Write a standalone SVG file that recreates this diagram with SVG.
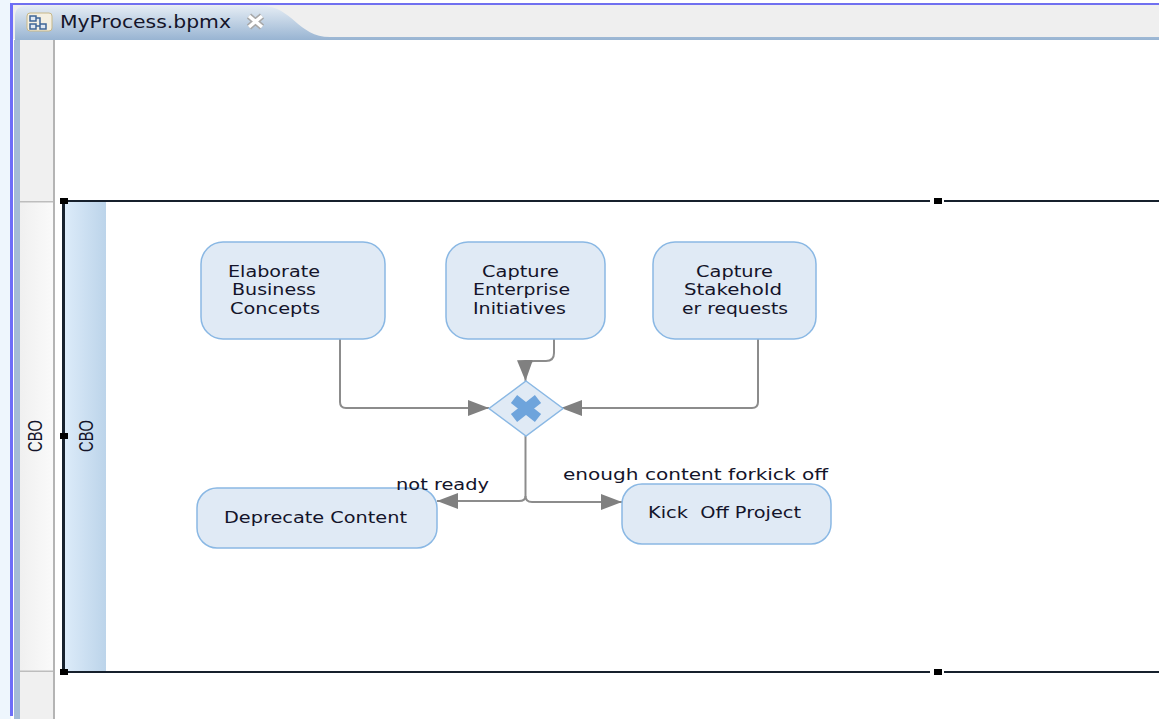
<svg xmlns="http://www.w3.org/2000/svg" width="1159" height="719" viewBox="0 0 1159 719">
<defs>
<linearGradient id="tabg" x1="0" y1="0" x2="0" y2="1"><stop offset="0" stop-color="#e4ecf4"/><stop offset="1" stop-color="#98b4d2"/></linearGradient>
<linearGradient id="lane" x1="0" y1="0" x2="1" y2="0"><stop offset="0" stop-color="#dcebf9"/><stop offset="1" stop-color="#bcd4ea"/></linearGradient>
<linearGradient id="left" x1="0" y1="0" x2="1" y2="0"><stop offset="0" stop-color="#f0f0f0"/><stop offset="1" stop-color="#fafafa"/></linearGradient>
<marker id="arr" markerUnits="userSpaceOnUse" markerWidth="22" markerHeight="18" refX="21" refY="8" orient="auto"><path d="M0 0L21 8L0 16Z" fill="#808080"/></marker>
</defs>
<style>
text{font-family:"DejaVu Sans","Liberation Sans",sans-serif;font-size:15.5px;fill:#14142a;white-space:pre}
.c{text-anchor:middle}
.task{fill:#e0eaf5;stroke:#8ab8e4;stroke-width:1.5}
.conn{fill:none;stroke:#8c8c8c;stroke-width:2;marker-end:url(#arr)}
.plain{fill:none;stroke:#8c8c8c;stroke-width:2}
.h{fill:#000}
.v{font-family:"Liberation Sans",sans-serif;font-size:21px}
</style>
<rect width="1159" height="719" fill="#fff"/>
<rect x="0" y="0" width="11" height="719" fill="#eef6fd"/>
<rect x="11" y="3" width="1148" height="2" fill="#7070f0"/>
<rect x="10" y="3" width="3" height="713" fill="#6e6ef8"/>
<rect x="13" y="5" width="1146" height="34" fill="#efefef"/>
<path d="M15 40V16Q15 6 26 6H262C292 6 298 37 330 37H1159V40Z" fill="url(#tabg)"/>
<rect x="14" y="40" width="6" height="679" fill="#a4bcd6"/>
<rect x="20" y="40" width="34" height="679" fill="#f0f0f0"/>
<rect x="20" y="202" width="34" height="469" fill="url(#left)"/>
<rect x="20" y="201" width="34" height="1.5" fill="#bdbdbd"/>
<rect x="20" y="670.5" width="34" height="1.5" fill="#bdbdbd"/>
<rect x="53" y="40" width="2" height="679" fill="#b4b4b4"/>
<g id="tab">
<rect x="27" y="13" width="25" height="18" rx="3" fill="#f4f0e2" stroke="#c8b888"/>
<path d="M30 16h6v5h-6zM30 24h6v5h-6zM40 24h6v5h-6zM36 18h4v6M36 26h4" fill="#dfe8f2" stroke="#3f6596" stroke-width="1.500"/>
<text x="60" y="28" style="font-size:18px" textLength="171" lengthAdjust="spacingAndGlyphs">MyProcess.bpmx</text>
<path d="M249 16L262 27M262 16L249 27" stroke="#a8a8a8" stroke-width="6.500"/>
<path d="M249 16L262 27M262 16L249 27" stroke="#fff" stroke-width="3.500" fill="none"/>
</g>
<g id="pool">
<rect x="65" y="202" width="41" height="469" fill="url(#lane)"/>
<path d="M63 201H1159M63 672H1159" stroke="#16202c" stroke-width="2" fill="none"/>
<path d="M63.500 201V672" stroke="#16202c" stroke-width="3" fill="none"/>
<rect x="60" y="198" width="8" height="6" class="h"/><rect x="60" y="433" width="8" height="6" class="h"/><rect x="60" y="669" width="8" height="6" class="h"/>
<rect x="930" y="199" width="14" height="5" fill="#fff"/><rect x="930" y="670" width="14" height="5" fill="#fff"/>
<rect x="934" y="198" width="8" height="6" class="h"/><rect x="934" y="669" width="8" height="6" class="h"/>
<text class="v c" transform="translate(42 436) rotate(-90)" textLength="32" lengthAdjust="spacingAndGlyphs">CBO</text>
<text class="v c" transform="translate(93 436) rotate(-90)" textLength="32" lengthAdjust="spacingAndGlyphs">CBO</text>
</g>
<g id="connectors">
<path class="conn" d="M340 338V402Q340 408 346 408H489"/>
<path class="conn" d="M554 338V353Q554 361 546 361H534Q525 361 525.500 381"/>
<path class="conn" d="M758 338V402Q758 408 752 408H561"/>
<path class="plain" d="M525.500 436V496"/>
<path class="conn" d="M525.500 496Q525.500 501 519 501H437"/>
<path class="conn" d="M525.500 496Q525.500 502 532 502H622"/>
</g>
<g id="elaborate"><rect class="task" x="201" y="242" width="184" height="97" rx="22"/><text x="228" y="277" textLength="92" lengthAdjust="spacingAndGlyphs">Elaborate</text><text x="232" y="295" textLength="84" lengthAdjust="spacingAndGlyphs">Business</text><text x="230" y="314" textLength="90" lengthAdjust="spacingAndGlyphs">Concepts</text></g>
<g id="enterprise"><rect class="task" x="446" y="242" width="159" height="97" rx="22"/><text x="482" y="277" textLength="77" lengthAdjust="spacingAndGlyphs">Capture</text><text x="473" y="295" textLength="97" lengthAdjust="spacingAndGlyphs">Enterprise</text><text x="473" y="314" textLength="93" lengthAdjust="spacingAndGlyphs">Initiatives</text></g>
<g id="stakeholder"><rect class="task" x="653" y="242" width="163" height="97" rx="22"/><text x="696" y="277" textLength="77" lengthAdjust="spacingAndGlyphs">Capture</text><text x="684" y="295" textLength="98" lengthAdjust="spacingAndGlyphs">Stakehold</text><text x="682" y="314" textLength="106" lengthAdjust="spacingAndGlyphs">er requests</text></g>
<g id="gateway"><path d="M526 381L563 408.500L526 436L489 408.500Z" fill="#e0eaf5" stroke="#8ab8e4" stroke-width="1.500"/><path d="M514 399L538 418M538 399L514 418" stroke="#6ea4dc" stroke-width="10" fill="none"/></g>
<g id="deprecate"><rect class="task" x="197" y="488" width="240" height="60" rx="20"/><text x="224" y="523" textLength="183" lengthAdjust="spacingAndGlyphs">Deprecate Content</text></g>
<g id="kickoff"><rect class="task" x="622" y="484" width="209" height="60" rx="20"/><text x="648" y="518" textLength="153" lengthAdjust="spacingAndGlyphs">Kick  Off Project</text></g>
<g id="labels"><text x="396" y="490" textLength="93" lengthAdjust="spacingAndGlyphs">not ready</text><text x="563" y="480" textLength="265" lengthAdjust="spacingAndGlyphs">enough content forkick off</text></g>
</svg>
